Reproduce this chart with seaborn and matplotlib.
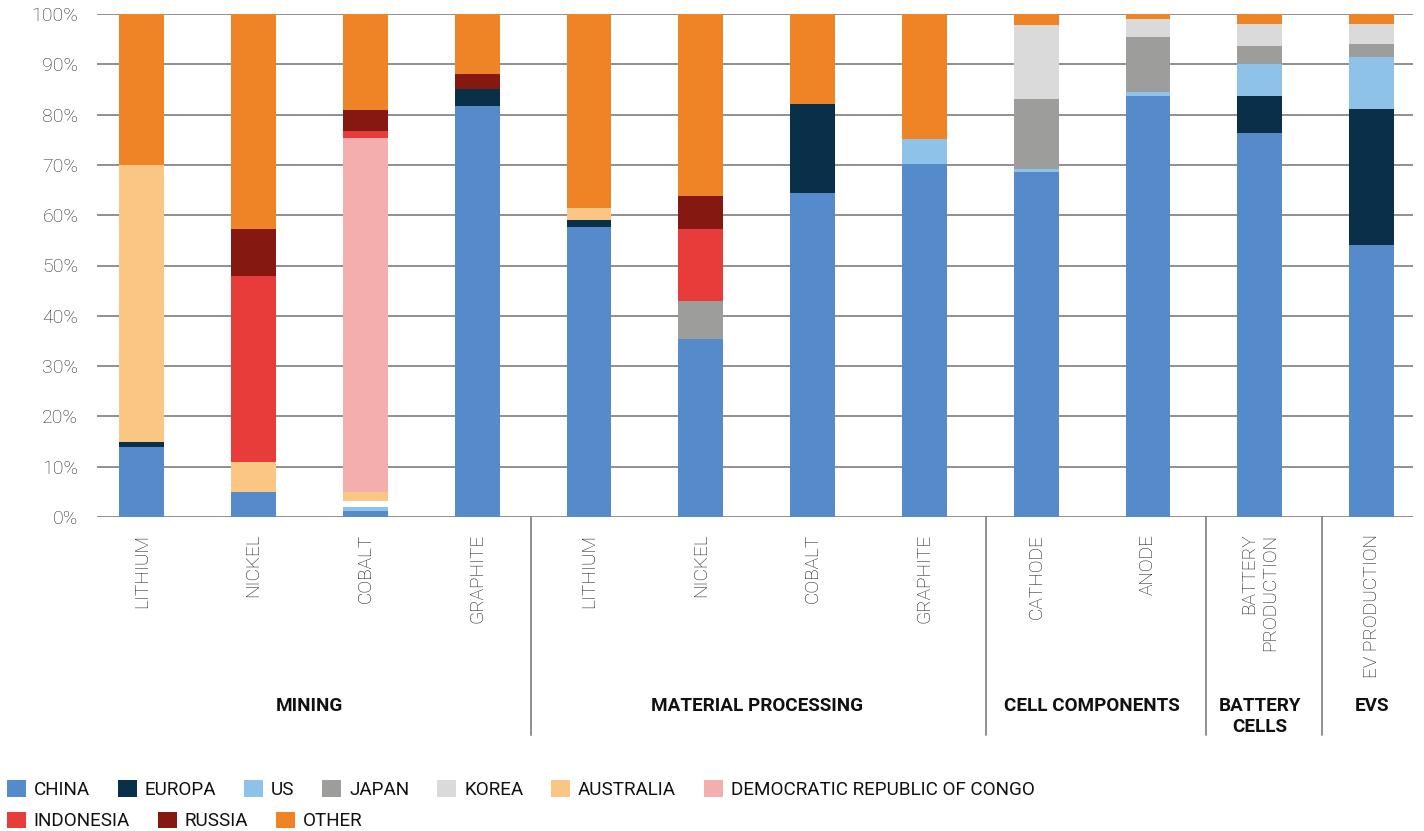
import numpy as np
import pandas as pd
import matplotlib
matplotlib.use("Agg")
import matplotlib.pyplot as plt
import seaborn as sns
from matplotlib.patches import Patch

# ---------------- data ----------------
stages = ["MINING"] * 4 + ["MATERIAL PROCESSING"] * 4 + ["CELL COMPONENTS"] * 2 + ["BATTERY\nCELLS", "EVS"]
categories = ["LITHIUM", "NICKEL", "COBALT", "GRAPHITE",
              "LITHIUM", "NICKEL", "COBALT", "GRAPHITE",
              "CATHODE", "ANODE", "BATTERY\nPRODUCTION", "EV PRODUCTION"]

china     = [13.9, 5.0, 1.2, 81.7, 57.7, 35.4, 64.4, 70.2, 68.6, 83.7, 76.3, 54.1]
europa    = [1.0, 0.0, 0.0, 3.4, 1.4, 0.0, 17.7, 0.0, 0.0, 0.0, 7.4, 27.0]
us        = [0.0, 0.0, 0.8, 0.0, 0.0, 0.0, 0.0, 4.9, 0.6, 0.8, 6.4, 10.4]
japan     = [0.0, 0.0, 0.0, 0.0, 0.0, 7.5, 0.0, 0.0, 13.9, 10.9, 3.5, 2.5]
korea     = [0.0, 0.0, 0.0, 0.0, 0.0, 0.0, 0.0, 0.0, 14.7, 3.6, 4.4, 4.0]
unlabeled = [0.0, 0.0, 1.2, 0.0, 0.0, 0.0, 0.0, 0.0, 0.0, 0.0, 0.0, 0.0]
australia = [55.0, 5.9, 1.8, 0.0, 2.4, 0.0, 0.0, 0.0, 0.0, 0.0, 0.0, 0.0]
drc       = [0.0, 0.0, 70.3, 0.0, 0.0, 0.0, 0.0, 0.0, 0.0, 0.0, 0.0, 0.0]
indonesia = [0.0, 37.0, 1.4, 0.0, 0.0, 14.4, 0.0, 0.0, 0.0, 0.0, 0.0, 0.0]
russia    = [0.0, 9.4, 4.2, 2.9, 0.0, 6.5, 0.0, 0.0, 0.0, 0.0, 0.0, 0.0]
other     = [30.1, 42.7, 19.1, 12.0, 38.5, 36.2, 17.9, 24.9, 2.2, 1.0, 2.0, 2.0]

series_names = ["CHINA", "EUROPA", "US", "JAPAN", "KOREA", "", "AUSTRALIA",
                "DEMOCRATIC REPUBLIC OF CONGO", "INDONESIA", "RUSSIA", "OTHER"]
series_values = [china, europa, us, japan, korea, unlabeled, australia, drc, indonesia, russia, other]
series_colors = ["#568BCB", "#0A3049", "#8FC2E8", "#9D9D9C", "#DADADA", "#FFFFFF",
                 "#F9C684", "#F4AEAD", "#E83C3A", "#861812", "#EF8426"]

y_ticks = [0, 10, 20, 30, 40, 50, 60, 70, 80, 90, 100]
y_tick_labels = [f"{t}%" for t in y_ticks]

# ---------------- figure ----------------
sns.set_theme(style="white")
plt.rcParams["font.family"] = ["Roboto", "DejaVu Sans"]

W, H = 1424, 831
fig = plt.figure(figsize=(W / 100, H / 100), dpi=100)
ax_left, ax_right, ax_top, ax_bottom = 97, 1413, 14, 517
ax = fig.add_axes([ax_left / W, 1 - ax_bottom / H, (ax_right - ax_left) / W, (ax_bottom - ax_top) / H])

ids = [f"{s}|{c}" for s, c in zip(stages, categories)]
n = len(ids)
cum = np.zeros(n)
for name, vals, col in zip(series_names, series_values, series_colors):
    vals = np.asarray(vals, dtype=float)
    sns.barplot(x=ids, y=vals, order=ids, bottom=cum, color=col, width=0.4,
                saturation=1, linewidth=0, errorbar=None, ax=ax)
    cum = cum + vals

ax.set_xlim(-0.40, 11.37)
ax.set_ylim(0, 100)
ax.set_axisbelow(True)
for t in y_ticks:
    ax.axhline(t, color="#878787", lw=1.3, zorder=0)
for s in ax.spines.values():
    s.set_visible(False)

ax.set_yticks(y_ticks)
ax.set_yticklabels(y_tick_labels, fontsize=14, color="#2a2a2a", fontweight="light")
ax.tick_params(axis="y", length=0, pad=13.5)

ax.set_xticks(range(n))
ax.set_xticklabels(categories, rotation=90, fontsize=13.8, color="#111111",
                   fontweight="light", va="top", ha="center", multialignment="right")
ax.tick_params(axis="x", length=0, pad=12)
ax.set_xlabel("")
ax.set_ylabel("")

# group separators
trans = ax.get_xaxis_transform()
sep_bottom = -(735 - ax_bottom) / (ax_bottom - ax_top)
for xs in [3.48, 7.55, 9.52, 10.56]:
    ax.plot([xs, xs], [0, sep_bottom], transform=trans, color="#878787", lw=1.3, clip_on=False)

# group labels
group_names = []
for s in stages:
    if s not in group_names:
        group_names.append(s)
label_y = -(697 - ax_bottom) / (ax_bottom - ax_top)
for g in group_names:
    xs = [i for i, s in enumerate(stages) if s == g]
    ax.text(np.mean(xs), label_y, g, transform=trans, ha="center", va="top",
            fontsize=13.6, fontweight="bold", color="#111111", linespacing=1.2)

# legend (flow layout: two rows)
handles = [Patch(facecolor=c, edgecolor="none", label=nm)
           for nm, c in zip(series_names, series_colors) if nm]
row1, row2 = handles[:7], handles[7:]
common = dict(frameon=False, fontsize=13.6, handlelength=1.0, handleheight=1.0,
              handletextpad=0.42, columnspacing=1.48, borderpad=0, borderaxespad=0,
              loc="center left", labelcolor="#111111")
leg1 = fig.legend(handles=row1, ncol=len(row1), bbox_to_anchor=(7 / W, 1 - 789.5 / H), **common)
leg2 = fig.legend(handles=row2, ncol=len(row2), bbox_to_anchor=(7 / W, 1 - 821 / H), **common)

fig.savefig("out.png", dpi=100)
